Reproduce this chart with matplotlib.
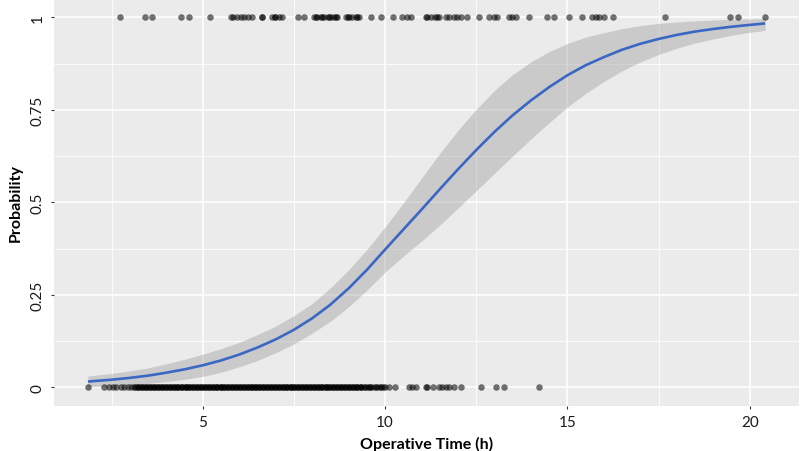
import numpy as np
import matplotlib
matplotlib.use("Agg")
import matplotlib.pyplot as plt

plt.rcParams['font.family'] = ['Lato', 'DejaVu Sans']

# observed operative times, outcome = 1 (top row)
temps_un = [2.73, 3.42, 3.60, 4.40, 4.61, 5.20, 5.77, 5.84, 5.93, 6.04, 6.13,
            6.24, 6.36, 6.62, 6.62, 6.89, 6.98, 6.98, 7.09, 7.18, 7.61, 7.78,
            8.05, 8.10, 8.14, 8.23, 8.28, 8.32, 8.42, 8.46, 8.51, 8.60, 8.64,
            8.69, 8.92, 8.97, 9.01, 9.10, 9.19, 9.23, 9.28, 9.60, 9.90, 10.21,
            10.47, 10.61, 10.70, 11.11, 11.15, 11.25, 11.38, 11.42, 11.47,
            11.66, 11.75, 11.88, 11.98, 12.07, 12.25, 12.57, 12.84, 12.98,
            13.07, 13.39, 13.48, 13.58, 13.94, 14.44, 14.62, 15.04, 15.40,
            15.68, 15.77, 15.86, 15.99, 16.25, 17.68, 19.47, 19.67, 20.42]

# observed operative times, outcome = 0 (bottom row)
temps_zero = [1.85, 2.30, 2.43, 2.53, 2.62, 2.75, 2.84, 2.94, 3.03, 3.12,
              3.15, 3.20, 3.26, 3.31, 3.37, 3.42, 3.48, 3.53, 3.58, 3.64, 3.70,
              3.75, 3.80, 3.86, 3.91, 3.97, 4.02, 4.07, 4.12, 4.18, 4.23, 4.28,
              4.33, 4.39, 4.44, 4.50, 4.55, 4.60, 4.66, 4.71, 4.76, 4.82, 4.87,
              4.92, 4.98, 5.03, 5.08, 5.13, 5.19, 5.24, 5.30, 5.35, 5.40, 5.46,
              5.51, 5.56, 5.62, 5.67, 5.72, 5.78, 5.83, 5.88, 5.94, 5.99, 6.04,
              6.10, 6.15, 6.20, 6.26, 6.31, 6.36, 6.42, 6.47, 6.52, 6.58, 6.63,
              6.68, 6.74, 6.79, 6.84, 6.90, 6.95, 7.00, 7.06, 7.11, 7.16, 7.22,
              7.27, 7.32, 7.38, 7.43, 7.48, 7.54, 7.59, 7.64, 7.70, 7.75, 7.80,
              7.86, 7.91, 7.96, 8.02, 8.07, 8.12, 8.18, 8.23, 8.28, 8.34, 8.39,
              8.44, 8.50, 8.55, 8.60, 8.66, 8.71, 8.76, 8.82, 8.87, 8.92, 8.98,
              9.03, 9.08, 9.14, 9.19, 9.24, 9.30, 9.35, 9.42, 9.50, 9.56, 9.62,
              9.70, 9.78, 9.85, 9.93, 10.00, 10.10, 10.27, 10.65, 10.74, 10.84,
              11.11, 11.16, 11.32, 11.47, 11.57, 11.66, 11.75, 11.88, 12.07,
              12.62, 13.05, 13.25, 14.23,
              3.23, 3.34, 3.45, 3.56, 3.67, 3.78, 3.89, 4.00, 4.10, 4.21, 4.31,
              4.42, 4.53, 4.63, 4.74, 4.85, 4.95, 5.06, 5.16, 5.27, 5.38, 5.49,
              5.59, 5.70, 5.80, 5.91, 6.01, 6.12, 6.23, 6.34, 6.44, 6.55, 6.66,
              6.76, 6.87, 6.98, 7.08, 7.19, 7.30, 7.41, 7.51, 7.62, 7.72, 7.83,
              7.94, 8.05, 8.15, 8.26, 8.37, 8.47, 8.58, 8.69, 8.79, 8.90, 9.00,
              9.11, 9.22, 9.33, 9.46, 9.59, 9.74, 9.89]

# fitted probability curve and its confidence band
courbe_x = [1.85, 2.5, 3, 3.5, 4, 4.5, 5, 5.5, 6, 6.5, 7, 7.5, 8, 8.5, 9, 9.5,
            10, 10.5, 11, 11.5, 12, 12.5, 13, 13.5, 14, 14.5, 15, 15.5, 16,
            16.5, 17, 17.5, 18, 18.5, 19, 19.5, 20, 20.42]
courbe_p = [0.016, 0.021, 0.026, 0.032, 0.040, 0.049, 0.060, 0.073, 0.089,
            0.108, 0.130, 0.156, 0.187, 0.224, 0.268, 0.318, 0.373, 0.427,
            0.481, 0.536, 0.590, 0.642, 0.691, 0.736, 0.776, 0.812, 0.844,
            0.871, 0.893, 0.913, 0.929, 0.942, 0.953, 0.962, 0.969, 0.975,
            0.980, 0.984]
bande_bas = [0.002, 0.004, 0.007, 0.011, 0.016, 0.022, 0.030, 0.041, 0.056,
             0.073, 0.094, 0.118, 0.147, 0.179, 0.218, 0.263, 0.312, 0.355,
             0.396, 0.439, 0.485, 0.532, 0.579, 0.626, 0.672, 0.716, 0.758,
             0.795, 0.827, 0.856, 0.880, 0.900, 0.917, 0.931, 0.942, 0.952,
             0.960, 0.965]
bande_haut = [0.031, 0.038, 0.045, 0.053, 0.064, 0.076, 0.090, 0.105, 0.122,
              0.143, 0.166, 0.194, 0.227, 0.269, 0.318, 0.373, 0.434, 0.499,
              0.566, 0.633, 0.695, 0.752, 0.803, 0.846, 0.880, 0.908, 0.930,
              0.947, 0.959, 0.970, 0.978, 0.984, 0.988, 0.991, 0.993, 0.995,
              0.996, 0.997]

x_ticks = [5, 10, 15, 20]
y_ticks = [0, 0.25, 0.5, 0.75, 1]
y_labels = ['0', '0.25', '0.5', '0.75', '1']

fig = plt.figure(figsize=(8, 4.52), dpi=100)
ax = fig.add_axes([0.0675, 0.0996, 0.9313, 0.9004])
ax.set_facecolor('#EBEBEB')

ax.scatter(temps_un, np.ones(len(temps_un)), s=22, color='black', alpha=0.55,
           linewidths=0, zorder=3)
ax.scatter(temps_zero, np.zeros(len(temps_zero)), s=22, color='black', alpha=0.55,
           linewidths=0, zorder=3)

ax.fill_between(courbe_x, bande_bas, bande_haut, color='#999999', alpha=0.4,
                linewidth=0, zorder=2)
ax.plot(courbe_x, courbe_p, color='#3A66C4', lw=1.9, zorder=4,
        solid_capstyle='butt')

ax.set_xlim(0.92, 21.35)
ax.set_ylim(-0.05, 1.05)
ax.set_xticks(x_ticks)
ax.set_xticks([2.5, 7.5, 12.5, 17.5], minor=True)
ax.set_yticks(y_ticks)
ax.set_yticklabels(y_labels, rotation=90, va='center')
ax.set_yticks([0.125, 0.375, 0.625, 0.875], minor=True)

ax.grid(which='major', color='white', lw=1.1, zorder=0)
ax.grid(which='minor', color='white', lw=0.55, zorder=0)
ax.set_axisbelow(True)
for s in ax.spines.values():
    s.set_visible(False)

ax.tick_params(which='major', length=2.5, width=0.8, color='#333333',
               labelsize=11, labelcolor='#1A1A1A', pad=4)
ax.tick_params(which='minor', length=0)

ax.set_xlabel('Operative Time (h)', fontsize=11.5, fontweight='bold', labelpad=5)
ax.set_ylabel('Probability', fontsize=11.5, fontweight='bold', labelpad=6)

fig.savefig('out.png', dpi=100)
